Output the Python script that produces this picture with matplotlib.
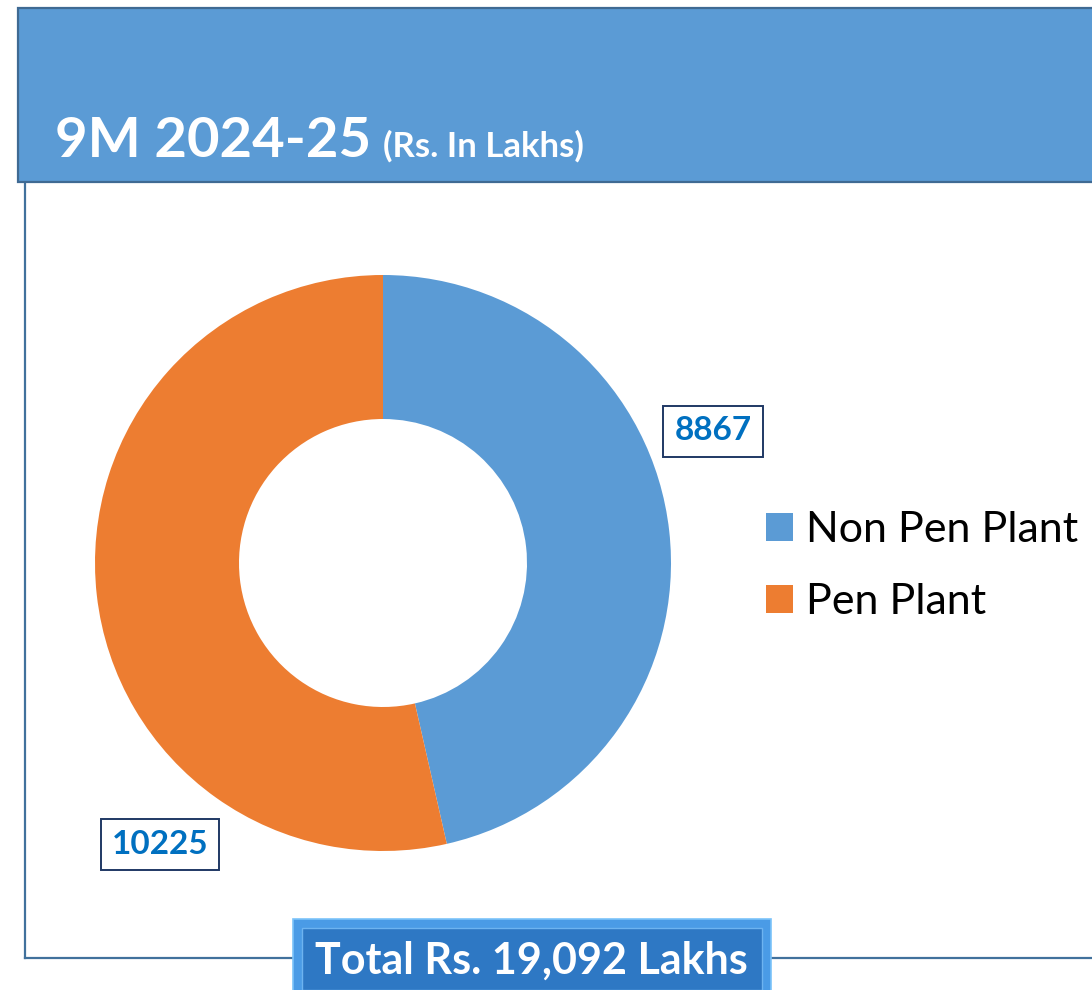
import matplotlib
matplotlib.use("Agg")
import matplotlib.pyplot as plt
from matplotlib.patches import Rectangle

plt.rcParams['font.family'] = ['Lato', 'DejaVu Sans']

# data
labels = ['Non Pen Plant', 'Pen Plant']
values = [8867, 10225]
colors = ['#5B9BD5', '#ED7D31']
title = '9M 2024-25'
subtitle = '(Rs. In Lakhs)'
total_text = 'Total Rs. 19,092 Lakhs'

W, H = 1092, 990
fig = plt.figure(figsize=(W / 100, H / 100), dpi=100)

# overlay axes in pixel coordinates for the frame and boxes
bg = fig.add_axes([0, 0, 1, 1])
bg.set_xlim(0, W)
bg.set_ylim(H, 0)
bg.axis('off')

frame_col = '#41719C'
# outer frame: left and bottom lines
bg.plot([25, 25], [182, 958], color=frame_col, lw=1.6, zorder=1)
bg.plot([25, W], [958, 958], color=frame_col, lw=1.6, zorder=1)

# header band
bg.add_patch(Rectangle((18, 8), W, 174, facecolor='#5B9BD5',
                       edgecolor='#3F6A93', lw=1.6, zorder=2))
bg.text(55, 157, title, color='white', fontsize=40.5, fontweight='bold',
        va='baseline', ha='left', zorder=3)
bg.text(383, 157, subtitle, color='white', fontsize=25, fontweight='bold',
        va='baseline', ha='left', zorder=3)

# total box
bg.add_patch(Rectangle((293, 919), 478, 75, facecolor='#4A9BE6',
                       edgecolor='#7CC3FA', lw=1.2, zorder=4))
bg.add_patch(Rectangle((302, 928), 460, 62, facecolor='#2E78C4',
                       edgecolor='#6DB3F0', lw=1.0, zorder=4))
bg.text(531, 974, total_text, color='white', fontsize=31, fontweight='bold',
        va='baseline', ha='center', zorder=5)

# donut
ax = fig.add_axes([95 / W, (H - 851) / H, 576 / W, 576 / H])
wedges, _ = ax.pie(values, colors=colors, startangle=90, counterclock=False,
                   radius=1, wedgeprops=dict(width=0.5, linewidth=0))
ax.set_xlim(-1, 1)
ax.set_ylim(-1, 1)
ax.set_aspect('equal')
ax.axis('off')

# value labels
label_pos = [(713, 431), (160, 844)]
for (x, y), v in zip(label_pos, values):
    bg.text(x, y, str(v), color='#0070C0', fontsize=24, fontweight='bold',
            ha='center', va='center', zorder=6,
            bbox=dict(boxstyle='square,pad=0.33', facecolor='white',
                      edgecolor='#1F3864', lw=1.4))

# legend
fig.legend(wedges, labels, loc='center left',
           bbox_to_anchor=(766 / W, 1 - 566 / H), frameon=False,
           borderpad=0, borderaxespad=0,
           fontsize=31, handlelength=0.62, handleheight=0.62,
           handletextpad=0.3, labelspacing=0.8)

fig.savefig('out.png', dpi=100)
